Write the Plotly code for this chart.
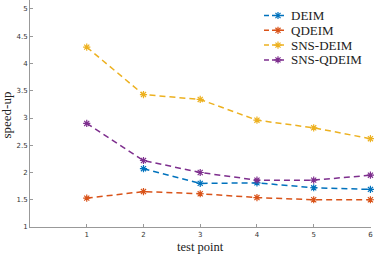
import plotly.graph_objects as go

test_points = [1, 2, 3, 4, 5, 6]
deim_x = [2, 3, 4, 5, 6]
deim = [2.07, 1.80, 1.81, 1.72, 1.69]
qdeim = [1.53, 1.65, 1.61, 1.54, 1.50, 1.50]
sns_deim = [4.30, 3.43, 3.34, 2.96, 2.82, 2.62]
sns_qdeim = [2.90, 2.22, 2.00, 1.86, 1.86, 1.95]

y_ticks = [1, 1.5, 2, 2.5, 3, 3.5, 4, 4.5, 5]
y_tick_text = ["1", "1.5", "2", "2.5", "3", "3.5", "4", "4.5", "5"]

series_names = ["DEIM", "QDEIM", "SNS-DEIM", "SNS-QDEIM"]
series_colors = ["#0072BD", "#D95319", "#EDB120", "#7E2F8E"]
series_x = [deim_x, test_points, test_points, test_points]
series_y = [deim, qdeim, sns_deim, sns_qdeim]

W, H = 374, 255
ML, MR, MT, MB = 30, 3, 0, 28

fig = go.Figure()
for name, xs, ys, c in zip(series_names, series_x, series_y, series_colors):
    fig.add_trace(go.Scatter(
        x=xs, y=ys, name=name, mode="lines+markers", cliponaxis=False, showlegend=False,
        line=dict(color=c, width=1.5, dash="6px,4px"),
        marker=dict(symbol="asterisk-open", size=6, color=c, line=dict(color=c, width=1.2)),
    ))

# legend drawn in pixel coordinates on an overlay axis
title_font = dict(family="Liberation Serif", size=13, color="#222222")
annotations = []
leg_x0, leg_x1, leg_mx, leg_tx, leg_y0, leg_dy = 264, 284, 278, 289, 15.5, 14.8
for i, (name, c) in enumerate(zip(series_names, series_colors)):
    yy = leg_y0 + i * leg_dy
    fig.add_trace(go.Scatter(
        x=[leg_x0, leg_x1], y=[yy, yy], xaxis="x2", yaxis="y2", mode="lines",
        line=dict(color=c, width=1.5, dash="5px,3px"), showlegend=False, hoverinfo="skip"))
    fig.add_trace(go.Scatter(
        x=[leg_mx], y=[yy], xaxis="x2", yaxis="y2", mode="markers",
        marker=dict(symbol="asterisk-open", size=6, color=c, line=dict(color=c, width=1.2)),
        showlegend=False, hoverinfo="skip"))
    annotations.append(dict(text=name, x=leg_tx, y=yy, xref="x2", yref="y2",
                            xanchor="left", yanchor="middle", showarrow=False,
                            font=title_font))

axis_common = dict(
    showgrid=False, zeroline=False, showline=True, linecolor="#999999", linewidth=1,
    ticks="inside", ticklen=3, tickcolor="#999999", automargin=False,
    tickfont=dict(family="DejaVu Sans", size=7, color="#333333"),
)
annotations += [
    dict(text="test point", x=0.5, xref="paper", y=0, yref="paper", yshift=-28,
         xanchor="center", yanchor="bottom", showarrow=False, borderpad=0,
         font=dict(family="Liberation Serif", size=12.5, color="#222222")),
    dict(text="speed-up", x=0, xref="paper", xshift=-24, y=0.5, yref="paper", yshift=-2,
         xanchor="center", yanchor="middle", textangle=-90, showarrow=False, font=title_font),
]
fig.update_layout(
    width=W, height=H,
    margin=dict(l=ML, r=MR, t=MT, b=MB, autoexpand=False),
    paper_bgcolor="white", plot_bgcolor="white",
    xaxis=dict(range=[0, 6.01], tickvals=test_points, ticktext=[str(v) for v in test_points],
               ticklabelstandoff=1, **axis_common),
    yaxis=dict(range=[1, 5.165], tickvals=y_ticks, ticktext=y_tick_text,
               **axis_common),
    xaxis2=dict(overlaying="x", range=[ML, W - MR], visible=False, fixedrange=True),
    yaxis2=dict(overlaying="y", range=[H - MB, MT], visible=False, fixedrange=True),
    showlegend=False,
    annotations=annotations,
)
fig.write_html("out.html", config={"displayModeBar": False, "staticPlot": True},
               post_script="document.body.style.margin='0';document.body.style.overflow='hidden';")
